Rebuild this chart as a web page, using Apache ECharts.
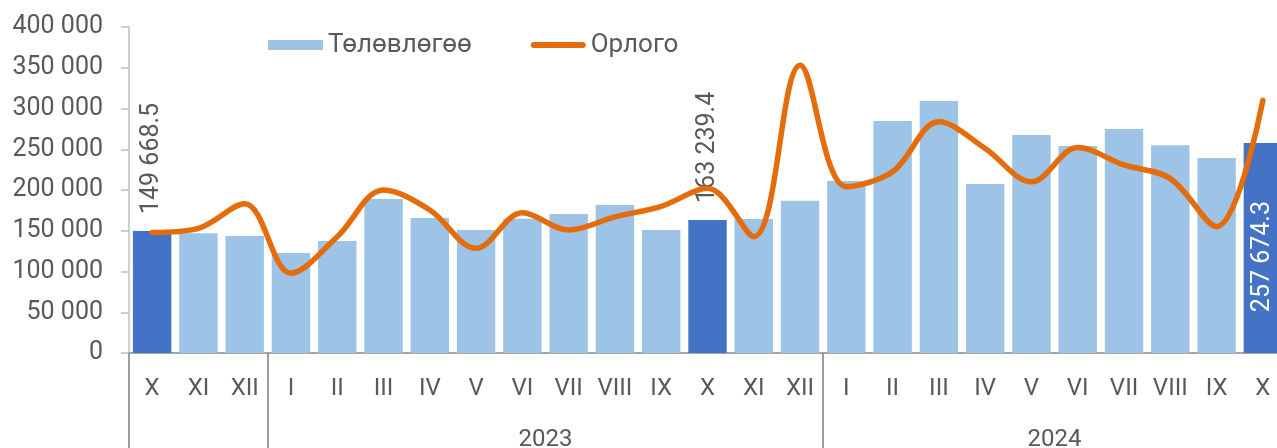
<!DOCTYPE html>
<html>
<head>
<meta charset="utf-8">
<script src="https://cdn.jsdelivr.net/npm/echarts@6/dist/echarts.min.js"></script>
<style>
html,body{margin:0;padding:0;background:#ffffff;}
#chart{width:1277px;height:448px;}
</style>
</head>
<body>
<div id="chart"></div>
<script>
// ---- data ----
const months = ['X','XI','XII','I','II','III','IV','V','VI','VII','VIII','IX','X','XI','XII','I','II','III','IV','V','VI','VII','VIII','IX','X'];
const yearNames = ['', '2023', '2024'];
const yearStarts = [0, 3, 15];
const plan = [149668.5, 146800, 143600, 122700, 137400, 189000, 165600, 150900, 164800, 170600, 181600, 150900, 163239.4, 164400, 186900, 211000, 284700, 309200, 207400, 267500, 254000, 274800, 254800, 239300, 257674.3];
const income = [148000, 153000, 183000, 98000, 142700, 200000, 175500, 128400, 172000, 151000, 167000, 180000, 202000, 142700, 353000, 204000, 222500, 283800, 251000, 210000, 252000, 230700, 214000, 155000, 310000];
const highlighted = [0, 12, 24];
const yMin = 0, yMax = 400000, yStep = 50000;

// ---- helpers ----
const fmt = v => {
  const parts = String(v).split('.');
  parts[0] = parts[0].replace(/\B(?=(\d{3})+(?!\d))/g, ' ');
  return parts.join('.');
};
const total = months.length;
const groupEnds = yearStarts.slice(1).concat([total]);
const halfCats = [];
for (let k = 0; k <= total * 2; k++) halfCats.push('');
yearNames.forEach((n, i) => { halfCats[yearStarts[i] + groupEnds[i]] = n; });
const boundaryIdx = yearStarts.map(s => s * 2);

const FONT = 'Roboto';
const GREY = '#595959';
const ORANGE = '#E46C0A';

const barData = plan.map((v, i) => {
  if (!highlighted.includes(i)) return v;
  const last = i === total - 1;
  return {
    value: v,
    itemStyle: { color: '#4472C4' },
    label: last ? {
      show: true, position: 'insideTop', rotate: 90, align: 'right', verticalAlign: 'middle',
      distance: 58, color: '#ffffff', fontSize: 25, fontFamily: FONT, formatter: p => fmt(p.value)
    } : {
      show: true, position: 'top', rotate: 90, align: 'left', verticalAlign: 'middle',
      distance: 17, color: GREY, fontSize: 25, fontFamily: FONT, formatter: p => fmt(p.value)
    }
  };
});

const chart = echarts.init(document.getElementById('chart'), null, { renderer: 'canvas' });
chart.setOption({
  animation: false,
  backgroundColor: '#ffffff',
  textStyle: { fontFamily: FONT },
  grid: { left: 129, width: 1157, top: 27, bottom: 95, containLabel: false, outerBoundsMode: 'none' },
  legend: {
    left: 263, top: 27, itemGap: 59, itemWidth: 55, itemHeight: 10,
    textStyle: { fontSize: 26, color: GREY, fontFamily: FONT },
    data: [
      { name: 'Төлөвлөгөө', icon: 'rect' },
      { name: 'Орлого', icon: 'path://M3,0 L52,0 A3,3 0 0 1 52,6 L3,6 A3,3 0 0 1 3,0 Z' }
    ]
  },
  xAxis: [
    {
      type: 'category', data: months, position: 'bottom',
      axisLine: { show: true, lineStyle: { color: '#A6A6A6', width: 2 } },
      axisTick: { show: false },
      axisLabel: { interval: 0, margin: 24, fontSize: 24, color: GREY, fontFamily: FONT }
    },
    {
      type: 'category', data: halfCats, position: 'bottom', boundaryGap: false,
      axisLine: { show: false },
      axisTick: { show: true, length: 96, interval: (idx) => boundaryIdx.includes(idx),
                  lineStyle: { color: '#7F7F7F', width: 1.5 } },
      axisLabel: { interval: (idx, val) => val !== '', margin: 75, fontSize: 24, color: GREY, fontFamily: FONT }
    }
  ],
  yAxis: {
    type: 'value', min: yMin, max: yMax, interval: yStep,
    splitLine: { show: false },
    axisLine: { show: true, lineStyle: { color: '#BFBFBF', width: 1.5 } },
    axisTick: { show: true, length: 8, lineStyle: { color: '#BFBFBF', width: 1.5 } },
    axisLabel: { margin: 26, fontSize: 25, color: GREY, fontFamily: FONT, formatter: v => fmt(v) }
  },
  series: [
    {
      name: 'Төлөвлөгөө', type: 'bar', data: barData, barWidth: '83%',
      itemStyle: { color: '#9DC3E6' }, xAxisIndex: 0
    },
    {
      name: 'Орлого', type: 'line', data: income, smooth: 0.35, symbol: 'none', xAxisIndex: 0,
      lineStyle: { color: ORANGE, width: 5.5, cap: 'round' },
      itemStyle: { color: ORANGE }
    }
  ]
});
</script>
</body>
</html>
